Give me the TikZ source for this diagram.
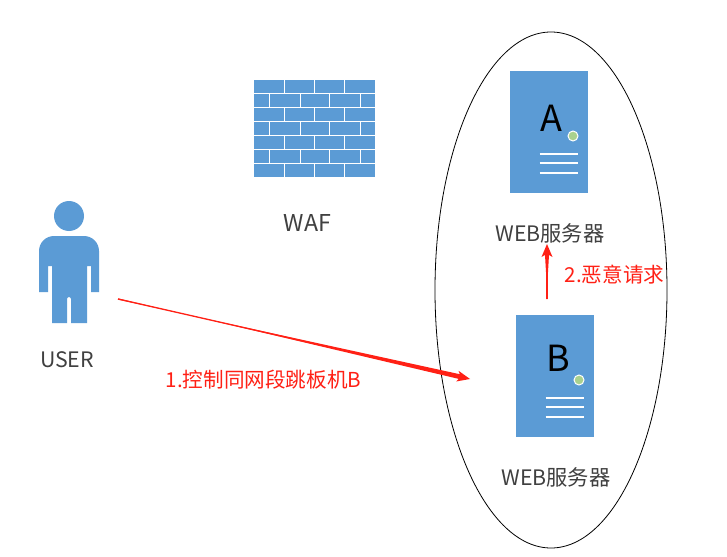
\documentclass[tikz,border=0pt]{standalone}
\usepackage{fontspec}
\setmainfont{Noto Sans CJK SC}
\usetikzlibrary{calc,shapes.geometric}
\definecolor{iconblue}{HTML}{5B9BD5}
\definecolor{icongreen}{HTML}{A9D18E}
\definecolor{labelgray}{HTML}{404040}
\definecolor{alertred}{HTML}{FF2015}
\tikzset{
  serverbox/.style={fill=iconblue,draw=none,minimum width=78pt,minimum height=122pt,inner sep=0pt},
  serverline/.style={draw=white,line width=2pt},
  serverdot/.style={circle,fill=icongreen,draw=white,line width=1pt,minimum size=10pt,inner sep=0pt},
  serverletter/.style={font=\fontsize{36}{36}\selectfont,text=black,inner sep=0pt},
  label/.style={font=\fontsize{21.3}{24}\selectfont,text=labelgray,inner sep=0pt},
  redlabel/.style={font=\fontsize{20.6}{24}\selectfont,text=alertred,inner sep=0pt},
  brick/.style={fill=iconblue,draw=none},
}
% tapered arrow: #1 tail, #2 tip, #3 half width at the head base
\newcommand{\taperarrow}[3]{%
  \draw[alertred,line width=1.3pt] (#1) -- ($(#2)!11pt!(#1)$);%
  \fill[alertred]
    ($(#1)!0.6pt!90:(#2)$) --
    ($($(#2)!11pt!(#1)$)!#3!-90:(#2)$) --
    ($($(#2)!13pt!(#1)$)!5.5pt!-90:(#2)$) --
    (#2) --
    ($($(#2)!13pt!(#1)$)!5.5pt!90:(#2)$) --
    ($($(#2)!11pt!(#1)$)!#3!90:(#2)$) --
    ($(#1)!0.6pt!-90:(#2)$) -- cycle;%
}
\begin{document}
\begin{tikzpicture}[x=1pt,y=-1pt]
\useasboundingbox (0,0) rectangle (727,556);
\fill[white] (0,0) rectangle (727,556);

% group ellipse
\node (group) at (551,290) [ellipse,draw=black,line width=0.8pt,minimum width=232pt,minimum height=516pt,inner sep=0pt] {};

% firewall
\foreach \y in {80,108,136,164}{
  \fill[brick] (254,\y) rectangle (284,\y+13.2);
  \fill[brick] (285,\y) rectangle (314,\y+13.2);
  \fill[brick] (315,\y) rectangle (344,\y+13.2);
  \fill[brick] (345,\y) rectangle (375,\y+13.2);
}
\foreach \y in {94.5,122.5,150.5}{
  \fill[brick] (254,\y) rectangle (269,\y+12.5);
  \fill[brick] (270,\y) rectangle (299.5,\y+12.5);
  \fill[brick] (300.5,\y) rectangle (329,\y+12.5);
  \fill[brick] (330,\y) rectangle (360,\y+12.5);
  \fill[brick] (361,\y) rectangle (375,\y+12.5);
}
\node[label,font=\fontsize{23.2}{24}\selectfont] (waf) at (307.5,223) {WAF};

% user
\fill[iconblue] (69,216) circle (15);
\fill[iconblue] (39,292) -- (39,251) arc[start angle=180,end angle=90,x radius=15,y radius=-15]
  -- (84,236) arc[start angle=90,end angle=0,x radius=15,y radius=-15]
  -- (99,292) -- (91,292) -- (91,266) -- (87,266) -- (87,323) -- (71,323) -- (71,299)
  arc[start angle=0,end angle=180,x radius=2,y radius=-2]
  -- (67,323) -- (52,323) -- (52,266) -- (48,266) -- (48,292) -- cycle;
\node[label] (user) at (67,360) {USER};

% server A
\node[serverbox] (srvA) at (549,132) {};
\node[serverletter] (letterA) at (551,118) {A};
\node[serverdot] (dotA) at (573,136) {};
\foreach \y in {154,163,173} \draw[serverline] (539.5,\y) -- (578,\y);
\node[label] (webA) at (550,233) {WEB服务器};

% server B
\node[serverbox] (srvB) at (555,376) {};
\node[serverletter] (letterB) at (558,358) {B};
\node[serverdot] (dotB) at (579,380) {};
\foreach \y in {398,407,417} \draw[serverline] (545.5,\y) -- (584,\y);
\node[label] (webB) at (556,477) {WEB服务器};

% arrows
\coordinate (a1) at (118,299);
\coordinate (b1) at (470,379);
\taperarrow{a1}{b1}{2.4pt}
\coordinate (a2) at (547,299);
\coordinate (b2) at (547,244);
\taperarrow{a2}{b2}{2pt}

\node[redlabel] (l1) at (263.5,380) {1.控制同网段跳板机B};
\node[redlabel] (l2) at (614.5,275) {2.恶意请求};
\end{tikzpicture}
\end{document}
